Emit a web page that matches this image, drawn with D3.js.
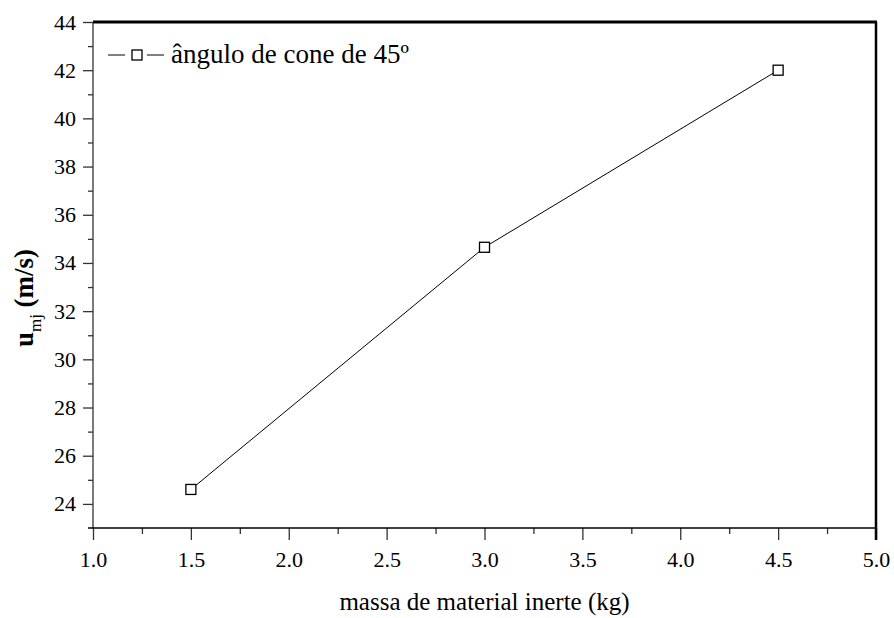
<!DOCTYPE html>
<html>
<head>
<meta charset="utf-8">
<script src="https://cdn.jsdelivr.net/npm/d3@7"></script>
<style>
body { margin: 0; background: #fff; }
svg text { font-family: 'Liberation Serif', 'Times New Roman', serif !important; fill: #000; }
</style>
</head>
<body>
<div id="chart"></div>
<script>
// values
var massa = [1.5, 3.0, 4.5];
var umj = [24.6, 34.65, 42.0];
var xTicks = [1.0, 1.5, 2.0, 2.5, 3.0, 3.5, 4.0, 4.5, 5.0];
var yTicks = [24, 26, 28, 30, 32, 34, 36, 38, 40, 42, 44];
var legendLabel = "ângulo de cone de 45º";

function draw(){
	var w = 894, h = 618;
	var pl = 93, pr = 876, pt = 22, pb = 528;
	var serif = "'Liberation Serif', 'Times New Roman', serif";

	var svg = d3.select("#chart").append("svg")
		.attr("width", w)
		.attr("height", h)
		.attr("font-family", serif);

	var x = d3.scaleLinear().domain([1, 5]).range([pl, pr]);
	var y = d3.scaleLinear().domain([23, 44]).range([pb, pt]);

	// minor ticks halfway
	var xMinor = d3.range(1.25, 5, 0.5);
	var yMinor = d3.range(25, 44, 2);

	var xAxis = svg.append("g")
		.attr("transform", "translate(0," + pb + ")")
		.call(d3.axisBottom(x).tickValues(xTicks).tickFormat(d3.format(".1f")).tickSize(12).tickPadding(11));
	svg.append("g")
		.attr("transform", "translate(0," + pb + ")")
		.call(d3.axisBottom(x).tickValues(xMinor).tickFormat("").tickSize(6));

	var yAxis = svg.append("g")
		.attr("transform", "translate(" + pl + ",0)")
		.call(d3.axisLeft(y).tickValues(yTicks).tickFormat(d3.format("d")).tickSize(10).tickPadding(7));
	svg.append("g")
		.attr("transform", "translate(" + pl + ",0)")
		.call(d3.axisLeft(y).tickValues(yMinor).tickFormat("").tickSize(5));

	svg.selectAll("g").attr("font-family", serif);
	svg.selectAll(".domain").remove();
	svg.selectAll(".tick line").attr("stroke", "#333").attr("stroke-width", 1.3);
	xAxis.selectAll("text").style("font-size", "22px");
	yAxis.selectAll("text").style("font-size", "22px");

	// frame
	svg.append("line").attr("x1", pl).attr("x2", pl).attr("y1", pt).attr("y2", pb)
		.attr("stroke", "#333").attr("stroke-width", 1.3);
	svg.append("line").attr("x1", pl - 5).attr("x2", pr).attr("y1", pb).attr("y2", pb)
		.attr("stroke", "#000").attr("stroke-width", 1.5);
	svg.append("line").attr("x1", pl).attr("x2", pr + 1).attr("y1", pt).attr("y2", pt)
		.attr("stroke", "#000").attr("stroke-width", 2.8);
	svg.append("line").attr("x1", pr).attr("x2", pr).attr("y1", pt).attr("y2", pb + 12)
		.attr("stroke", "#000").attr("stroke-width", 2.5);

	// data line
	var pts = massa.map(function(d, i){ return [d, umj[i]]; });
	svg.append("path")
		.datum(pts)
		.attr("fill", "none")
		.attr("stroke", "#000")
		.attr("stroke-width", 1)
		.attr("d", d3.line().x(function(d){ return x(d[0]); }).y(function(d){ return y(d[1]); }));

	svg.selectAll("rect.pt")
		.data(pts)
		.enter().append("rect")
		.attr("class", "pt")
		.attr("x", function(d){ return x(d[0]) - 5; })
		.attr("y", function(d){ return y(d[1]) - 5; })
		.attr("width", 10)
		.attr("height", 10)
		.attr("fill", "#fff")
		.attr("stroke", "#000")
		.attr("stroke-width", 1.3);

	// legend
	var lg = svg.append("g").attr("transform", "translate(108,55)");
	lg.append("line").attr("x1", 0).attr("x2", 17).attr("y1", 0).attr("y2", 0)
		.attr("stroke", "#000").attr("stroke-width", 1);
	lg.append("line").attr("x1", 39).attr("x2", 56).attr("y1", 0).attr("y2", 0)
		.attr("stroke", "#000").attr("stroke-width", 1);
	lg.append("rect").attr("x", 24).attr("y", -5).attr("width", 10).attr("height", 10)
		.attr("fill", "#fff").attr("stroke", "#000").attr("stroke-width", 1.3);
	lg.append("text").attr("x", 63).attr("y", 8)
		.style("font-size", "27px")
		.text(legendLabel);

	// axis titles
	svg.append("text")
		.attr("x", (pl + pr) / 2)
		.attr("y", 610)
		.attr("text-anchor", "middle")
		.style("font-size", "25px")
		.text("massa de material inerte (kg)");

	var yt = svg.append("text")
		.attr("transform", "translate(33,298) rotate(-90)")
		.attr("text-anchor", "middle")
		.style("font-size", "27px")
		.style("font-weight", "bold");
	yt.append("tspan").text("u");
	yt.append("tspan").attr("dy", 8).style("font-size", "17px").style("font-weight", "normal").text("mj");
	yt.append("tspan").attr("dy", -8).text(" (m/s)");
}

window.onload = draw;
</script>
</body>
</html>
